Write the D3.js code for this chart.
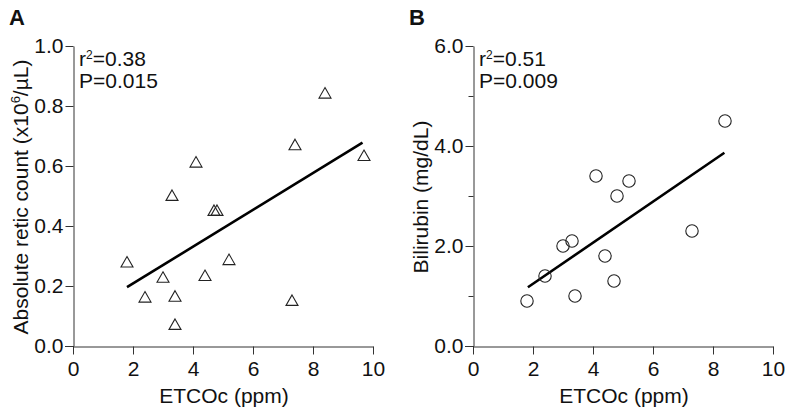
<!DOCTYPE html>
<html>
<head>
<meta charset="utf-8">
<script src="https://cdn.jsdelivr.net/npm/d3@7"></script>
<style>
  html, body { margin: 0; padding: 0; background: #fff; }
  svg text { font-family: Arial, "Liberation Sans", Helvetica, sans-serif; fill: #111; }
</style>
</head>
<body>
<svg id="chart" width="791" height="414"></svg>
<script>
// ---- Data ----
const xTicks = [0, 2, 4, 6, 8, 10];

// Panel A: absolute retic count vs ETCOc
const retX = [1.8, 2.4, 3.0, 3.3, 3.4, 3.4, 4.1, 4.4, 4.7, 4.8, 5.2, 7.3, 7.4, 8.4, 9.7];
const retY = [0.28, 0.163, 0.229, 0.502, 0.166, 0.072, 0.613, 0.235, 0.452, 0.452, 0.288, 0.152, 0.671, 0.843, 0.635];
const retFitX = [1.8, 9.65];
const retFitY = [0.196, 0.678];
const retTicks = [0.0, 0.2, 0.4, 0.6, 0.8, 1.0];
const retStats = ["0.38", "0.015"];

// Panel B: bilirubin vs ETCOc
const biliX = [1.8, 2.4, 3.0, 3.3, 3.4, 4.1, 4.4, 4.7, 4.8, 5.2, 7.3, 8.4];
const biliY = [0.9, 1.4, 2.0, 2.1, 1.0, 3.4, 1.8, 1.3, 3.0, 3.3, 2.3, 4.5];
const biliFitX = [1.83, 8.38];
const biliFitY = [1.174, 3.866];
const biliMajorTicks = [0, 2, 4, 6];
const biliMinorTicks = [1, 3, 5];
const biliStats = ["0.51", "0.009"];

// ---- Drawing ----
const svg = d3.select("#chart");
const FS = 21;

function panel(opts) {
  const g = svg.append("g");
  const x = d3.scaleLinear().domain([0, 10]).range([opts.x0, opts.x0 + 300]);
  const y = d3.scaleLinear().domain(opts.yDomain).range([346, 46]);

  // Minor y ticks
  if (opts.minor) {
    const ma = g.append("g").attr("transform", `translate(${opts.x0 + 0.5},0)`)
      .call(d3.axisLeft(y).tickValues(opts.minor).tickSize(5).tickFormat("").tickSizeOuter(0));
    ma.select(".domain").remove();
    ma.selectAll("line").attr("stroke", "#333");
  }

  // y axis
  const ya = g.append("g").attr("transform", `translate(${opts.x0 + 0.5},0)`)
    .call(d3.axisLeft(y).tickValues(opts.yTicks).tickSize(8).tickPadding(2).tickSizeOuter(0)
      .tickFormat(d3.format(".1f")));
  ya.select(".domain").attr("stroke", "#333");
  ya.selectAll("line").attr("stroke", "#333");
  ya.selectAll("text").style("font-size", FS + "px").attr("fill", "#111");
  // extend y axis line below x axis
  g.append("line").attr("x1", opts.x0 + 0.5).attr("x2", opts.x0 + 0.5)
    .attr("y1", 346).attr("y2", 354).attr("stroke", "#333");

  // x axis
  const xa = g.append("g").attr("transform", `translate(0,346.5)`)
    .call(d3.axisBottom(x).tickValues(xTicks).tickSize(8).tickPadding(7).tickSizeOuter(0)
      .tickFormat(d3.format("d")));
  xa.select(".domain").attr("stroke", "#333");
  xa.selectAll("line").attr("stroke", "#333");
  xa.selectAll("text").style("font-size", FS + "px").attr("fill", "#111");
  g.append("line").attr("x1", opts.x0 - 8).attr("x2", opts.x0)
    .attr("y1", 346.5).attr("y2", 346.5).attr("stroke", "#333");

  // x title
  g.append("text").attr("x", opts.x0 + 151).attr("y", 403)
    .attr("text-anchor", "middle").style("font-size", FS + "px")
    .text("ETCOc (ppm)");

  // y title
  const yt = g.append("text")
    .attr("transform", `translate(${opts.x0 - 45},197) rotate(-90)`)
    .attr("text-anchor", "middle").style("font-size", FS + "px");
  opts.yTitle(yt);

  // panel letter
  g.append("text").attr("x", opts.x0 - 64).attr("y", 25)
    .style("font-size", "22px").style("font-weight", "bold").text(opts.letter);

  // stats
  const s1 = g.append("text").attr("x", opts.x0 + 6).attr("y", 66).style("font-size", FS + "px");
  s1.append("tspan").text("r");
  s1.append("tspan").attr("dy", -7).style("font-size", "12px").text("2");
  s1.append("tspan").attr("dy", 7).text("=" + opts.stats[0]);
  g.append("text").attr("x", opts.x0 + 6).attr("y", 88).style("font-size", FS + "px")
    .text("P=" + opts.stats[1]);

  // fit line
  const fit = opts.fitX.map((v, i) => [v, opts.fitY[i]]);
  g.append("path").datum(fit)
    .attr("d", d3.line().x(d => x(d[0])).y(d => y(d[1])))
    .attr("stroke", "#000").attr("stroke-width", 2.6).attr("fill", "none");

  // points
  const pts = opts.px.map((v, i) => [v, opts.py[i]]);
  if (opts.marker === "triangle") {
    g.selectAll("path.pt").data(pts).enter().append("path").attr("class", "pt")
      .attr("transform", d => `translate(${x(d[0])},${y(d[1])})`)
      .attr("d", "M0,-5.5 L6,5 L-6,5 Z")
      .attr("fill", "none").attr("stroke", "#222").attr("stroke-width", 1.1);
  } else {
    g.selectAll("circle.pt").data(pts).enter().append("circle").attr("class", "pt")
      .attr("cx", d => x(d[0])).attr("cy", d => y(d[1])).attr("r", 6.2)
      .attr("fill", "none").attr("stroke", "#222").attr("stroke-width", 1.1);
  }
}

panel({
  x0: 73, letter: "A", yDomain: [0, 1], yTicks: retTicks,
  px: retX, py: retY, fitX: retFitX, fitY: retFitY, stats: retStats, marker: "triangle",
  yTitle: t => {
    t.append("tspan").text("Absolute retic count (x10");
    t.append("tspan").attr("dy", -8).style("font-size", "13px").text("6");
    t.append("tspan").attr("dy", 8).text("/\u00B5L)");
  }
});

panel({
  x0: 473, letter: "B", yDomain: [0, 6], yTicks: biliMajorTicks, minor: biliMinorTicks,
  px: biliX, py: biliY, fitX: biliFitX, fitY: biliFitY, stats: biliStats, marker: "circle",
  yTitle: t => t.text("Bilirubin (mg/dL)")
});
</script>
</body>
</html>
